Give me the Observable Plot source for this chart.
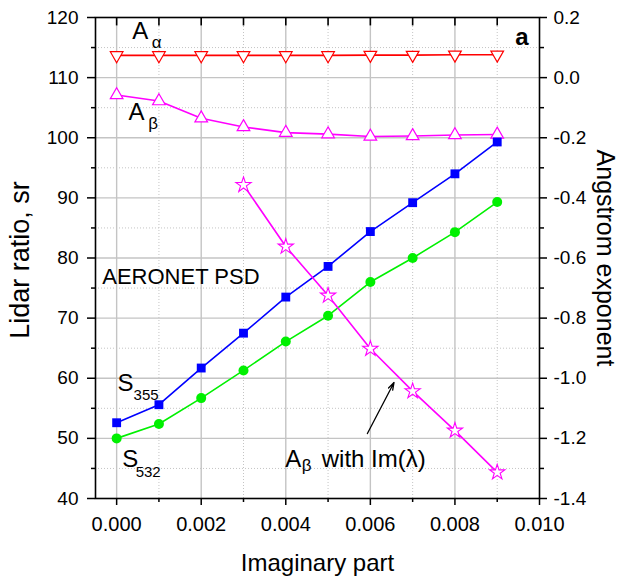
<!DOCTYPE html>
<html>
<head>
<meta charset="utf-8">
<script src="https://cdn.jsdelivr.net/npm/d3@7"></script>
<script src="https://cdn.jsdelivr.net/npm/@observablehq/plot@0.6"></script>
<style>
  html, body { margin: 0; padding: 0; background: white; }
  #chart { width: 621px; height: 583px; }
</style>
</head>
<body>
<div id="chart"></div>
<script>
// ---- data ----
const imagPart = [0.000, 0.001, 0.002, 0.003, 0.004, 0.005, 0.006, 0.007, 0.008, 0.009];
const s355 = [52.6, 55.6, 61.7, 67.5, 73.5, 78.6, 84.4, 89.2, 94.0, 99.3];
const s532 = [50.0, 52.4, 56.7, 61.3, 66.1, 70.4, 76.0, 80.0, 84.3, 89.3];
const aAlpha = [0.074, 0.074, 0.074, 0.074, 0.074, 0.074, 0.075, 0.075, 0.076, 0.076];
const aBeta = [-0.058, -0.078, -0.135, -0.164, -0.183, -0.188, -0.196, -0.194, -0.191, -0.189];
const imagPartIm = [0.003, 0.004, 0.005, 0.006, 0.007, 0.008, 0.009];
const aBetaIm = [-0.357, -0.562, -0.725, -0.902, -1.043, -1.174, -1.313];

const xMajorTicks = [0.000, 0.002, 0.004, 0.006, 0.008, 0.010];
const xMinorTicks = [0.001, 0.003, 0.005, 0.007, 0.009];
const xTopTicks = [0.000, 0.001, 0.002, 0.003, 0.004, 0.005, 0.006, 0.007, 0.008, 0.009];
const yLeftTicks = [40, 50, 60, 70, 80, 90, 100, 110, 120];
const yLeftMinor = [45, 55, 65, 75, 85, 95, 105, 115];
const yRightTicks = [0.2, 0.0, -0.2, -0.4, -0.6, -0.8, -1.0, -1.2, -1.4];
const yRightMinor = [0.1, -0.1, -0.3, -0.5, -0.7, -0.9, -1.1, -1.3];

// right axis (Angstrom exponent, -1.4..0.2) mapped onto left scale (40..120)
const toLeft = v => 40 + (v + 1.4) * 50;
const fromLeft = d => { const v = Math.round(((d - 40) / 50 - 1.4) * 10) / 10; return (v === 0 ? 0 : v).toFixed(1); };

const rows = imagPart.map((x, i) => ({x, s355: s355[i], s532: s532[i], aA: toLeft(aAlpha[i]), aB: toLeft(aBeta[i])}));
const rowsIm = imagPartIm.map((x, i) => ({x, v: toLeft(aBetaIm[i])}));

// annotation labels (data coordinates)
const labels = [
  {t: "A", x: 0.00037, y: 116.5, s: 24},
  {t: "α", x: 0.00083, y: 115.0, s: 17},
  {t: "A", x: 0.00028, y: 102.9, s: 24},
  {t: "β", x: 0.00075, y: 101.5, s: 17},
  {t: "AERONET PSD", x: -0.00034, y: 75.7, s: 22},
  {t: "S", x: 0.00002, y: 57.9, s: 24},
  {t: "355", x: 0.00040, y: 56.4, s: 15},
  {t: "S", x: 0.00013, y: 45.2, s: 24},
  {t: "532", x: 0.00045, y: 43.6, s: 15},
  {t: "A", x: 0.00399, y: 45.3, s: 24},
  {t: "β", x: 0.00438, y: 44.5, s: 17},
  {t: "with Im(λ)", x: 0.00485, y: 45.3, s: 24}
];
const arrowData = [{x1: 0.00593, y1: 50.8, x2: 0.00656, y2: 59.3}];

const triDown = {
  draw(ctx, size) {
    const y = Math.sqrt(size / (Math.sqrt(3) * 3));
    ctx.moveTo(0, y * 2);
    ctx.lineTo(Math.sqrt(3) * y, -y);
    ctx.lineTo(-Math.sqrt(3) * y, -y);
    ctx.closePath();
  }
};

const gridColor = "#c4c4c4";
const green = "#00f000";
const H = 583, MT = 17, MB = 85;

const chart = Plot.plot({
  width: 621,
  height: H,
  marginLeft: 95,
  marginRight: 82,
  marginTop: MT,
  marginBottom: MB,
  style: {fontFamily: "'Liberation Sans', Arial, sans-serif", fontSize: "19px", color: "black", background: "white"},
  x: {domain: [-0.0005, 0.010]},
  y: {domain: [40, 120]},
  marks: [
    // grid
    Plot.gridX({ticks: xMajorTicks.slice(0, -1), stroke: gridColor, strokeOpacity: 1, strokeWidth: 1.4}),
    Plot.gridX({ticks: xMinorTicks, stroke: gridColor, strokeOpacity: 1, strokeWidth: 1, strokeDasharray: "1,2"}),
    Plot.gridY({ticks: yLeftTicks.slice(1, -1), stroke: gridColor, strokeOpacity: 1, strokeWidth: 1.4}),
    Plot.gridY({ticks: yLeftMinor, stroke: gridColor, strokeOpacity: 1, strokeWidth: 1, strokeDasharray: "1,2"}),
    // axes
    Plot.axisX({anchor: "bottom", ticks: xMajorTicks, tickSize: 7, tickPadding: 11, tickFormat: d3.format(".3f"), fontSize: 20, label: null, strokeWidth: 1.5}),
    Plot.axisX({anchor: "bottom", ticks: xMinorTicks, tickSize: 4, tickFormat: () => "", label: null, strokeWidth: 1.5}),
    Plot.ruleX(xTopTicks, {x: d => d, y1: 120, y2: 118.6, stroke: "black", strokeWidth: 1.6}),
    Plot.axisY({anchor: "left", ticks: yLeftTicks, tickSize: 8, tickPadding: 9, tickFormat: d => String(d), fontSize: 19, label: null, strokeWidth: 1.5}),
    Plot.axisY({anchor: "left", ticks: yLeftMinor, tickSize: 4, tickFormat: () => "", label: null, strokeWidth: 1.5}),
    Plot.axisY({anchor: "right", ticks: yRightTicks.map(toLeft), tickSize: 7, tickPadding: 7, tickFormat: fromLeft, fontSize: 19, label: null, strokeWidth: 1.5}),
    Plot.axisY({anchor: "right", ticks: yRightMinor.map(toLeft), tickSize: 4, tickFormat: () => "", label: null, strokeWidth: 1.5}),
    Plot.frame({stroke: "black", strokeWidth: 1.6}),
    // axis titles
    Plot.text(["Lidar ratio, sr"], {frameAnchor: "left", dx: -75, dy: 2, rotate: -90, fontSize: 27, textAnchor: "middle", lineAnchor: "middle"}),
    Plot.text(["Angstrom exponent"], {frameAnchor: "right", dx: 65, rotate: 90, fontSize: 25, textAnchor: "middle", lineAnchor: "middle"}),
    Plot.text(["Imaginary part"], {frameAnchor: "bottom", dy: 72, fontSize: 24, textAnchor: "middle", lineAnchor: "bottom"}),
    // series lines
    Plot.line(rows, {x: "x", y: "aA", stroke: "#ff0000", strokeWidth: 1.6}),
    Plot.line(rows, {x: "x", y: "aB", stroke: "#ff00ff", strokeWidth: 1.6}),
    Plot.line(rows, {x: "x", y: "s355", stroke: "#0000ff", strokeWidth: 1.6}),
    Plot.line(rows, {x: "x", y: "s532", stroke: green, strokeWidth: 1.6}),
    Plot.line(rowsIm, {x: "x", y: "v", stroke: "#ff00ff", strokeWidth: 1.6}),
    // markers
    Plot.dot(rows, {x: "x", y: "aA", symbol: triDown, r: 4.7, stroke: "#ff0000", fill: "white", strokeWidth: 1.2}),
    Plot.dot(rows, {x: "x", y: "aB", symbol: "triangle", r: 4.7, stroke: "#ff00ff", fill: "white", strokeWidth: 1.2}),
    Plot.dot(rows, {x: "x", y: "s355", symbol: "square", r: 5, fill: "#0000ff", stroke: "none"}),
    Plot.dot(rows, {x: "x", y: "s532", symbol: "circle", r: 5, fill: green, stroke: "none"}),
    Plot.dot(rowsIm, {x: "x", y: "v", symbol: "star", r: 4.8, stroke: "#ff00ff", fill: "white", strokeWidth: 1.1}),
    // annotations
    Plot.text(labels, {x: "x", y: "y", text: "t", fontSize: "s", textAnchor: "start", lineAnchor: "bottom", fill: "black"}),
    Plot.text(["a"], {frameAnchor: "top-right", dx: -11, dy: 27, fontSize: 24, fontWeight: "bold", textAnchor: "end", lineAnchor: "bottom"}),
    Plot.arrow(arrowData, {x1: "x1", y1: "y1", x2: "x2", y2: "y2", stroke: "black", strokeWidth: 1.3, headLength: 9, headAngle: 35})
  ]
});
document.getElementById("chart").appendChild(chart);
</script>
</body>
</html>
